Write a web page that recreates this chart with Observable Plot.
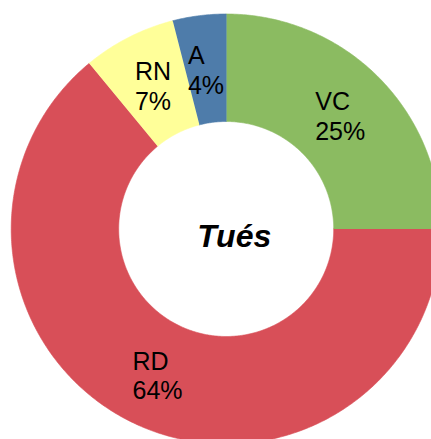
<!DOCTYPE html>
<html><head><meta charset="utf-8">
<script src="https://cdn.jsdelivr.net/npm/d3@7"></script>
<script src="https://cdn.jsdelivr.net/npm/@observablehq/plot@0.6"></script>
<style>html,body{margin:0;padding:0;background:#fff;overflow:hidden}</style>
</head><body><div id="chart"></div>
<script>
// ---- data ----
const categories = ["VC", "RD", "RN", "A"];
const percents = [25, 64, 7, 4];
const centerTitle = "Tués";

// ---- geometry derived from data (unit donut, clockwise from 12 o'clock) ----
const OUTER = 1, INNER = 0.5;
const total = d3.sum(percents);
let acc = 0;
const slices = categories.map((c, i) => {
  const a0 = acc / total * 2 * Math.PI;
  acc += percents[i];
  const a1 = acc / total * 2 * Math.PI;
  return {cat: c, pct: percents[i], a0, a1};
});
const polyPts = [];
for (const s of slices) {
  const n = Math.max(4, Math.ceil((s.a1 - s.a0) / 0.01));
  for (let k = 0; k <= n; k++) {
    const a = s.a0 + (s.a1 - s.a0) * k / n;
    polyPts.push({cat: s.cat, x: OUTER * Math.sin(a), y: OUTER * Math.cos(a)});
  }
  for (let k = n; k >= 0; k--) {
    const a = s.a0 + (s.a1 - s.a0) * k / n;
    polyPts.push({cat: s.cat, x: INNER * Math.sin(a), y: INNER * Math.cos(a)});
  }
}

// ---- layout ----
const W = 431, H = 439;
const CX = 225.7, CY = 228.5, R = 215;
const LABEL_FONT = 25;
const FONT = "'Liberation Sans', Arial, Helvetica, sans-serif";

const ctx = document.createElement("canvas").getContext("2d");
ctx.font = `${LABEL_FONT}px ${FONT}`;
const labels = slices.map(s => {
  const am = (s.a0 + s.a1) / 2, rm = (OUTER + INNER) / 2;
  const text = `${s.cat}\n${s.pct}%`;
  const w = d3.max(text.split("\n"), t => ctx.measureText(t).width);
  return {text, x: rm * Math.sin(am) - (w / 2) / R, y: rm * Math.cos(am)};
});

const chart = Plot.plot({
  width: W, height: H,
  marginTop: 0, marginRight: 0, marginBottom: 0, marginLeft: 0,
  x: {domain: [-1, 1], range: [CX - R, CX + R], axis: null},
  y: {domain: [-1, 1], range: [CY + R, CY - R], axis: null},
  color: {type: "ordinal", domain: categories, range: ["#8BBB61", "#D84F58", "#FFFF99", "#4E7CAA"]},
  style: {background: "#fff", overflow: "hidden"},
  marks: [
    Plot.line(polyPts, {x: "x", y: "y", z: "cat", fill: "cat", stroke: "cat", strokeWidth: 0.6, curve: "linear"}),
    Plot.text(labels, {x: "x", y: "y", text: "text", textAnchor: "start", lineAnchor: "middle",
      lineHeight: 1.2, fontSize: LABEL_FONT, fontFamily: FONT, fill: "#000"}),
    Plot.text([centerTitle], {x: () => 0, y: () => 0, text: d => d, textAnchor: "middle", lineAnchor: "middle",
      dx: 8, dy: 8, fontSize: 32, fontWeight: "bold", fontStyle: "italic", fontFamily: FONT, fill: "#000"})
  ]
});
document.getElementById("chart").appendChild(chart);
</script>
</body></html>
